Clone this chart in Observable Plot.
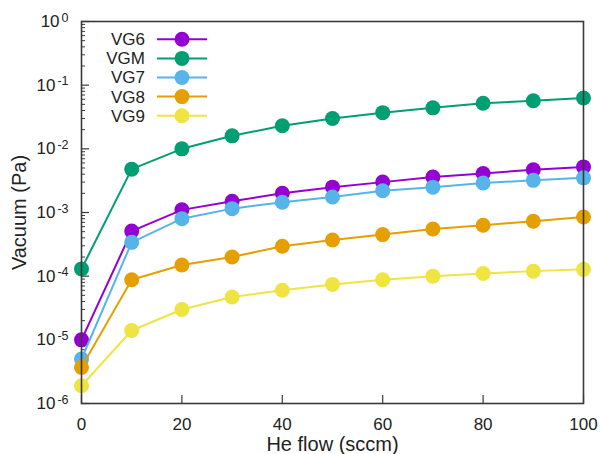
<!DOCTYPE html>
<html>
<head>
<meta charset="utf-8">
<script src="https://cdn.jsdelivr.net/npm/d3@7"></script>
<script src="https://cdn.jsdelivr.net/npm/@observablehq/plot@0.6"></script>
<style>
  html, body { margin: 0; padding: 0; background: #fff; }
  #chart { width: 601px; height: 454px; }
</style>
</head>
<body>
<div id="chart"></div>
<script>
// He flow (sccm) and the vacuum (Pa) read on each gauge
const flow = [0, 10, 20, 30, 40, 50, 60, 70, 80, 90, 100];
const vg6 = [1.0e-5, 5.1e-4, 1.1e-3, 1.5e-3, 2.0e-3, 2.5e-3, 3.0e-3, 3.6e-3, 4.1e-3, 4.7e-3, 5.2e-3];
const vgm = [1.3e-4, 4.8e-3, 1.0e-2, 1.6e-2, 2.3e-2, 3.0e-2, 3.7e-2, 4.4e-2, 5.2e-2, 5.7e-2, 6.3e-2];
const vg7 = [5.0e-6, 3.4e-4, 8.0e-4, 1.15e-3, 1.45e-3, 1.75e-3, 2.2e-3, 2.5e-3, 2.9e-3, 3.2e-3, 3.5e-3];
const vg8 = [3.7e-6, 8.8e-5, 1.5e-4, 2.0e-4, 2.95e-4, 3.7e-4, 4.5e-4, 5.5e-4, 6.3e-4, 7.3e-4, 8.5e-4];
const vg9 = [1.9e-6, 1.4e-5, 3.0e-5, 4.7e-5, 6.0e-5, 7.4e-5, 8.8e-5, 1.0e-4, 1.1e-4, 1.2e-4, 1.28e-4];

const seriesNames = ["VG6", "VGM", "VG7", "VG8", "VG9"];
const seriesValues = [vg6, vgm, vg7, vg8, vg9];
const seriesColors = ["#9400d3", "#009e73", "#56b4e9", "#e69f00", "#f0e442"];

const xTicks = [0, 20, 40, 60, 80, 100];
const yTicks = [1e-6, 1e-5, 1e-4, 1e-3, 1e-2, 1e-1, 1];

// minor ticks 2..9 within each decade
const yMinor = yTicks.slice(0, -1).flatMap(d => [2, 3, 4, 5, 6, 7, 8, 9].map(k => k * d));

const rows = seriesNames.flatMap((name, i) =>
  flow.map((f, j) => ({series: name, flow: f, vac: seriesValues[i][j]}))
);

const W = 601, H = 454;
const mL = 81, mR = 18, mT = 21, mB = 51;
const innerW = W - mL - mR, innerH = H - mT - mB;
const font = "'Liberation Sans', Arial, sans-serif";
const ink = "#222";
const axisInk = "#3a3a3a";

const seriesMarks = seriesNames.flatMap((name, i) => {
  const data = rows.filter(r => r.series === name);
  return [
    Plot.line(data, {x: "flow", y: "vac", stroke: seriesColors[i], strokeWidth: 2}),
    Plot.dot(data, {x: "flow", y: "vac", fill: seriesColors[i], r: 7.5})
  ];
});

const svg = Plot.plot({
  width: W,
  height: H,
  marginLeft: mL,
  marginRight: mR,
  marginTop: mT,
  marginBottom: mB,
  style: {fontFamily: font, fontSize: "17px", color: ink, background: "#fff"},
  x: {domain: [0, 100]},
  y: {type: "log", domain: [1e-6, 1]},
  marks: [
    // inward ticks along the left and bottom edges
    Plot.tickY(yMinor, {y: d => d, insetRight: innerW - 4, stroke: axisInk, strokeWidth: 1}),
    Plot.tickY(yTicks, {y: d => d, insetRight: innerW - 8, stroke: axisInk, strokeWidth: 1.2}),
    Plot.tickX(xTicks, {x: d => d, insetTop: innerH - 8, stroke: axisInk, strokeWidth: 1.2}),
    ...seriesMarks,
    Plot.frame({stroke: axisInk, strokeWidth: 1.6}),
    Plot.axisY({
      ticks: yTicks,
      tickSize: 0,
      tickPadding: 13,
      tickFormat: d => "10^" + Math.round(Math.log10(d)),
      fontSize: 17,
      label: "Vacuum (Pa)",
      labelAnchor: "center",
      labelArrow: "none",
      labelOffset: 70
    }),
    Plot.axisX({
      ticks: xTicks,
      tickSize: 0,
      tickPadding: 14,
      tickFormat: d => String(d),
      fontSize: 17,
      label: "He flow (sccm)",
      labelAnchor: "center",
      labelArrow: "none",
      labelOffset: 47
    })
  ]
});

const root = d3.select(svg);

// powers of ten: exponent as raised, smaller text
root.selectAll('g[aria-label="y-axis tick label"] text').each(function () {
  const [base, exp] = this.textContent.split("^");
  const t = d3.select(this);
  t.text(base);
  t.append("tspan").attr("dx", 2).attr("dy", "-0.42em").attr("font-size", "12.5px").text(exp);
});
root.selectAll('g[aria-label="y-axis label"] text, g[aria-label="x-axis label"] text')
  .attr("font-size", "20px");

// legend in the upper-left corner of the frame
const legend = root.append("g").attr("font-family", font).attr("font-size", "17px").attr("fill", ink);
seriesNames.forEach((name, i) => {
  const y = mT + 18.3 + i * 19.1;
  legend.append("text").attr("x", mL + 64).attr("y", y).attr("dy", "0.35em")
    .attr("text-anchor", "end").text(name);
  legend.append("line").attr("x1", mL + 76).attr("x2", mL + 126).attr("y1", y).attr("y2", y)
    .attr("stroke", seriesColors[i]).attr("stroke-width", 2);
  legend.append("circle").attr("cx", mL + 101).attr("cy", y).attr("r", 7.5).attr("fill", seriesColors[i]);
});

document.getElementById("chart").appendChild(svg);
</script>
</body>
</html>
